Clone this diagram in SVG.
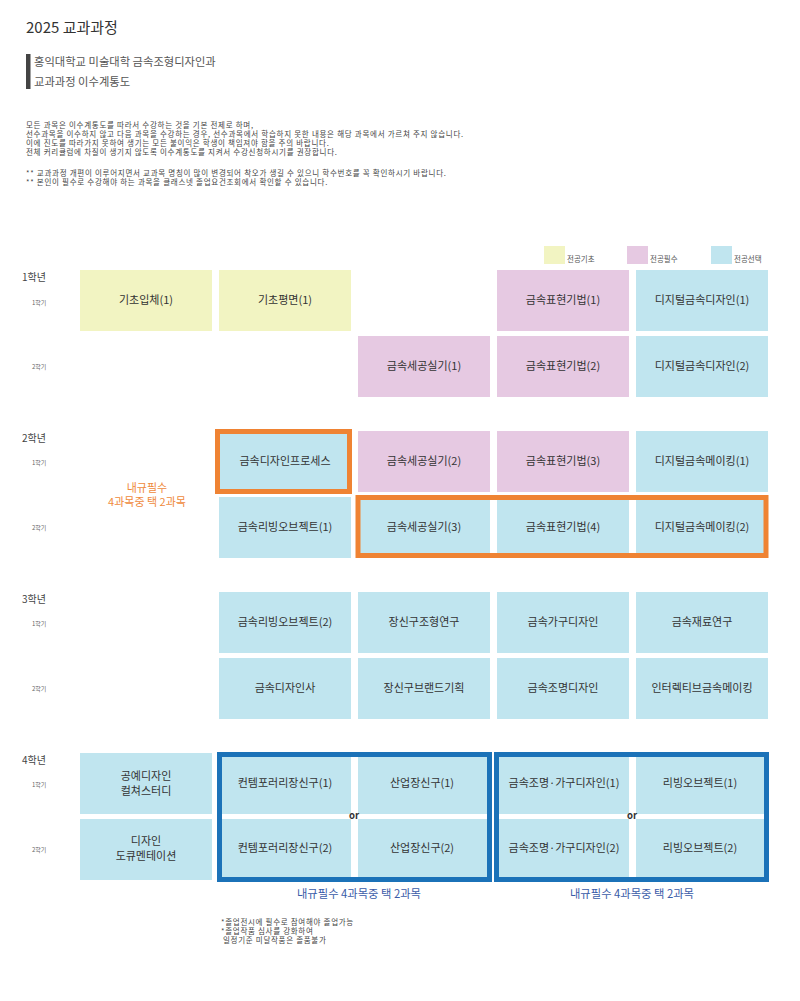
<svg xmlns="http://www.w3.org/2000/svg" width="800" height="1001" viewBox="0 0 800 1001">
<style>
text{font-family:"Noto Sans CJK KR","Noto Sans",sans-serif;fill:#333}
.y{fill:#f2f4c2}.p{fill:#e6c9e2}.b{fill:#c0e5ef}
.ct{font-size:11px;text-anchor:middle}
.yr{font-size:10px;fill:#444}
.sm{font-size:6px;fill:#666}
.body{font-size:7.5px;letter-spacing:0.72px;fill:#444}
.lg{font-size:7.5px;fill:#555}
.or{font-size:9.5px;font-weight:bold;text-anchor:middle;fill:#333}
.ofr{fill:none;stroke:#ef8333;stroke-width:5}
.bfr{fill:none;stroke:#1b72b8;stroke-width:5}
.otx{font-size:11px;fill:#ef8a3c;text-anchor:middle}
.btx{font-size:11.3px;fill:#3a5ba8;text-anchor:middle}
.fn{font-size:7.5px;letter-spacing:0.7px;fill:#444}
</style>
<rect width="800" height="1001" fill="#fff"/>
<text x="26" y="33" style="font-size:15px">2025 교과과정</text>
<rect x="26" y="54" width="4.5" height="35" fill="#444"/>
<text x="34" y="66" style="font-size:11.3px;fill:#555">홍익대학교 미술대학 금속조형디자인과</text>
<text x="34" y="86" style="font-size:11.3px;fill:#555">교과과정 이수계통도</text>
<g id="notes">
<text class="body" x="26" y="128">모든 과목은 이수계통도를 따라서 수강하는 것을 기본 전제로 하며,</text>
<text class="body" x="26" y="137">선수과목을 이수하지 않고 다음 과목을 수강하는 경우, 선수과목에서 학습하지 못한 내용은 해당 과목에서 가르쳐 주지 않습니다.</text>
<text class="body" x="26" y="146">이에 진도를 따라가지 못하여 생기는 모든 불이익은 학생이 책임져야 함을 주의 바랍니다.</text>
<text class="body" x="26" y="155">전체 커리큘럼에 차질이 생기지 않도록 이수계통도를 지켜서 수강신청하시기를 권장합니다.</text>
<text class="body" x="26" y="176">** 교과과정 개편이 이루어지면서 교과목 명칭이 많이 변경되어 착오가 생길 수 있으니 학수번호를 꼭 확인하시기 바랍니다.</text>
<text class="body" x="26" y="185">** 본인이 필수로 수강해야 하는 과목을 클래스넷 졸업요건조회에서 확인할 수 있습니다.</text>
</g>
<g id="legend">
<rect class="y" x="544" y="246" width="21" height="18"/><text class="lg" x="567" y="262">전공기초</text>
<rect class="p" x="627" y="246" width="21" height="18"/><text class="lg" x="650" y="262">전공필수</text>
<rect class="b" x="711" y="246" width="21" height="18"/><text class="lg" x="734" y="262">전공선택</text>
</g>
<g id="labels">
<text class="yr" x="22" y="281">1학년</text><text class="sm" x="32" y="305">1학기</text><text class="sm" x="32" y="369">2학기</text>
<text class="yr" x="22" y="442">2학년</text><text class="sm" x="32" y="465">1학기</text><text class="sm" x="32" y="530">2학기</text>
<text class="yr" x="22" y="603">3학년</text><text class="sm" x="32" y="626">1학기</text><text class="sm" x="32" y="691">2학기</text>
<text class="yr" x="22" y="764">4학년</text><text class="sm" x="32" y="787">1학기</text><text class="sm" x="32" y="852">2학기</text>
</g>
<g id="n-y1s1-1"><rect class="y" x="80" y="270" width="132" height="61"/><text class="ct" x="146" y="304">기초입체(1)</text></g>
<g id="n-y1s1-2"><rect class="y" x="219" y="270" width="132" height="61"/><text class="ct" x="285" y="304">기초평면(1)</text></g>
<g id="n-y1s1-4"><rect class="p" x="497" y="270" width="132" height="61"/><text class="ct" x="563" y="304">금속표현기법(1)</text></g>
<g id="n-y1s1-5"><rect class="b" x="636" y="270" width="132" height="61"/><text class="ct" x="702" y="304">디지털금속디자인(1)</text></g>
<g id="n-y1s2-3"><rect class="p" x="358" y="336" width="132" height="61"/><text class="ct" x="424" y="370">금속세공실기(1)</text></g>
<g id="n-y1s2-4"><rect class="p" x="497" y="336" width="132" height="61"/><text class="ct" x="563" y="370">금속표현기법(2)</text></g>
<g id="n-y1s2-5"><rect class="b" x="636" y="336" width="132" height="61"/><text class="ct" x="702" y="370">디지털금속디자인(2)</text></g>
<g id="n-y2s1-2"><rect class="b" x="219" y="431" width="132" height="61"/><text class="ct" x="285" y="465">금속디자인프로세스</text></g>
<g id="n-y2s1-3"><rect class="p" x="358" y="431" width="132" height="61"/><text class="ct" x="424" y="465">금속세공실기(2)</text></g>
<g id="n-y2s1-4"><rect class="p" x="497" y="431" width="132" height="61"/><text class="ct" x="563" y="465">금속표현기법(3)</text></g>
<g id="n-y2s1-5"><rect class="b" x="636" y="431" width="132" height="61"/><text class="ct" x="702" y="465">디지털금속메이킹(1)</text></g>
<g id="n-y2s2-2"><rect class="b" x="219" y="497" width="132" height="61"/><text class="ct" x="285" y="531">금속리빙오브젝트(1)</text></g>
<g id="n-y2s2-3"><rect class="b" x="358" y="497" width="132" height="61"/><text class="ct" x="424" y="531">금속세공실기(3)</text></g>
<g id="n-y2s2-4"><rect class="b" x="497" y="497" width="132" height="61"/><text class="ct" x="563" y="531">금속표현기법(4)</text></g>
<g id="n-y2s2-5"><rect class="b" x="636" y="497" width="132" height="61"/><text class="ct" x="702" y="531">디지털금속메이킹(2)</text></g>
<g id="n-y3s1-2"><rect class="b" x="219" y="592" width="132" height="61"/><text class="ct" x="285" y="626">금속리빙오브젝트(2)</text></g>
<g id="n-y3s1-3"><rect class="b" x="358" y="592" width="132" height="61"/><text class="ct" x="424" y="626">장신구조형연구</text></g>
<g id="n-y3s1-4"><rect class="b" x="497" y="592" width="132" height="61"/><text class="ct" x="563" y="626">금속가구디자인</text></g>
<g id="n-y3s1-5"><rect class="b" x="636" y="592" width="132" height="61"/><text class="ct" x="702" y="626">금속재료연구</text></g>
<g id="n-y3s2-2"><rect class="b" x="219" y="658" width="132" height="61"/><text class="ct" x="285" y="692">금속디자인사</text></g>
<g id="n-y3s2-3"><rect class="b" x="358" y="658" width="132" height="61"/><text class="ct" x="424" y="692">장신구브랜드기획</text></g>
<g id="n-y3s2-4"><rect class="b" x="497" y="658" width="132" height="61"/><text class="ct" x="563" y="692">금속조명디자인</text></g>
<g id="n-y3s2-5"><rect class="b" x="636" y="658" width="132" height="61"/><text class="ct" x="702" y="692">인터렉티브금속메이킹</text></g>
<g id="n-y4s1-1"><rect class="b" x="80" y="753" width="132" height="61"/><text class="ct" x="146" y="780">공예디자인</text><text class="ct" x="146" y="795">컬쳐스터디</text></g>
<g id="n-y4s2-1"><rect class="b" x="80" y="819" width="132" height="61"/><text class="ct" x="146" y="845">디자인</text><text class="ct" x="146" y="860">도큐멘테이션</text></g>
<g id="n-y4s1-2"><rect class="b" x="219" y="753" width="132" height="61"/><text class="ct" x="285" y="787">컨템포러리장신구(1)</text></g>
<g id="n-y4s1-3"><rect class="b" x="358" y="753" width="132" height="61"/><text class="ct" x="422" y="787">산업장신구(1)</text></g>
<g id="n-y4s2-2"><rect class="b" x="219" y="819" width="132" height="61"/><text class="ct" x="285" y="852">컨템포러리장신구(2)</text></g>
<g id="n-y4s2-3"><rect class="b" x="358" y="819" width="132" height="61"/><text class="ct" x="422" y="852">산업장신구(2)</text></g>
<g id="n-y4s1-4"><rect class="b" x="497" y="753" width="132" height="61"/><text class="ct" x="564" y="787">금속조명·가구디자인(1)</text></g>
<g id="n-y4s1-5"><rect class="b" x="636" y="753" width="132" height="61"/><text class="ct" x="700" y="787">리빙오브젝트(1)</text></g>
<g id="n-y4s2-4"><rect class="b" x="497" y="819" width="132" height="61"/><text class="ct" x="564" y="852">금속조명·가구디자인(2)</text></g>
<g id="n-y4s2-5"><rect class="b" x="636" y="819" width="132" height="61"/><text class="ct" x="700" y="852">리빙오브젝트(2)</text></g>
<g id="groups">
<rect class="ofr" x="217.5" y="431.5" width="132" height="60"/>
<rect class="ofr" x="358" y="497.5" width="408" height="58"/>
<text class="otx" x="147" y="492">내규필수</text>
<text class="otx" x="147" y="506">4과목중 택 2과목</text>
<rect class="bfr" x="219.5" y="754.5" width="270" height="125"/>
<rect class="bfr" x="496.5" y="754.5" width="270" height="125"/>
<text class="or" x="354" y="819">or</text>
<text class="or" x="632" y="819">or</text>
<text class="btx" x="359" y="898">내규필수 4과목중 택 2과목</text>
<text class="btx" x="632" y="898">내규필수 4과목중 택 2과목</text>
</g>
<g id="footnote">
<text class="fn" x="221" y="925">*졸업전시에 필수로 참여해야 졸업가능</text>
<text class="fn" x="221" y="934">*졸업작품 심사를 강화하여</text>
<text class="fn" x="223" y="943">일정기준 미달작품은 졸품불가</text>
</g>
</svg>
